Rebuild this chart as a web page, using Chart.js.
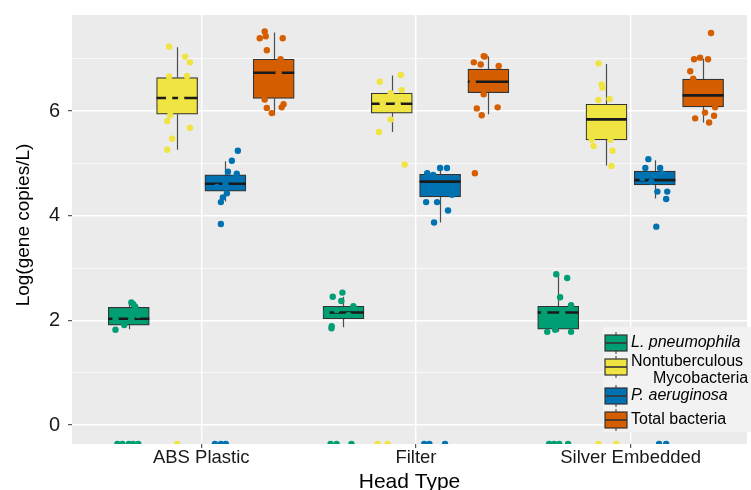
<!DOCTYPE html>
<html>
<head>
<meta charset="utf-8">
<script src="https://cdn.jsdelivr.net/npm/chart.js@4.4.0/dist/chart.umd.min.js"></script>
<style>
  html, body { margin: 0; padding: 0; background: #fff; }
  #chart { display: block; }
</style>
</head>
<body>
<canvas id="chart" width="751" height="490"></canvas>
<script>
// Head types on the x axis, species as dodged groups
const headTypes = ['ABS Plastic', 'Filter', 'Silver Embedded'];
const speciesNames = [['L. pneumophila'], ['Nontuberculous', 'Mycobacteria'], ['P. aeruginosa'], ['Total bacteria']];
const speciesItalic = [true, false, true, false];
const speciesColors = ['#009E73', '#F0E442', '#0072B2', '#D55E00'];
const dodge = [-0.3375, -0.1125, 0.1125, 0.3375];

// Box statistics, rows = species, columns = head type
const whiskerLow  = [[1.83, 1.87, 1.78], [5.26, 5.60, 4.96], [4.27, 3.87, 4.33], [5.92, 5.94, 5.78]];
const quartile1   = [[1.91, 2.03, 1.83], [5.94, 5.96, 5.45], [4.47, 4.36, 4.59], [6.24, 6.35, 6.08]];
const medians     = [[2.03, 2.15, 2.15], [6.25, 6.14, 5.84], [4.61, 4.65, 4.68], [6.73, 6.56, 6.30]];
const quartile3   = [[2.25, 2.27, 2.27], [6.64, 6.34, 6.13], [4.78, 4.79, 4.85], [6.99, 6.80, 6.61]];
const whiskerHigh = [[2.34, 2.45, 2.88], [7.22, 6.68, 6.90], [5.04, 4.91, 5.06], [7.50, 7.04, 7.00]];

// Jittered samples: [jitter offset, log value] per head type
const lpPoints = [
  [[-0.062, 1.82], [-0.021, 1.91], [0.012, 2.34], [0.021, 2.31], [0.03, 2.26], [-0.062, 2.03], [0.012, 2.02], [0.044, 2.1]],
  [[-0.005, 2.53], [-0.05, 2.45], [-0.01, 2.37], [-0.055, 1.89], [-0.056, 1.85], [0.046, 2.27], [-0.032, 2.2], [0.023, 2.1], [-0.079, 2.15]],
  [[-0.009, 2.88], [0.042, 2.81], [0.009, 2.44], [0.06, 2.29], [-0.051, 1.78], [0.06, 1.78], [-0.014, 1.82], [-0.065, 2.15], [0.019, 2.14]]
];
const ntmPoints = [
  [[-0.037, 7.23], [0.037, 7.04], [0.06, 6.93], [-0.037, 6.66], [0.046, 6.67], [-0.032, 5.92], [-0.046, 5.81], [0.06, 5.68], [-0.023, 5.47], [-0.046, 5.26], [-0.037, 6.25], [0.019, 6.24]],
  [[0.042, 6.69], [-0.056, 6.56], [0.046, 6.40], [-0.005, 6.34], [-0.005, 5.84], [-0.06, 5.60], [0.06, 4.98], [-0.042, 6.15], [0.028, 6.12], [0.046, 6.05]],
  [[-0.037, 6.91], [-0.023, 6.51], [-0.019, 6.45], [-0.037, 6.21], [0.014, 6.23], [-0.06, 5.33], [0.028, 5.24], [0.023, 4.95], [-0.069, 5.45], [0.019, 5.45]]
];
const paPoints = [
  [[0.058, 5.24], [0.03, 5.05], [0.012, 4.84], [0.053, 4.80], [0.007, 4.43], [-0.012, 4.35], [-0.021, 4.26], [-0.021, 3.84], [0, 4.6], [0.044, 4.72], [-0.04, 4.55]],
  [[0, 4.91], [0.032, 4.91], [-0.06, 4.81], [-0.032, 4.78], [-0.065, 4.26], [-0.014, 4.26], [0.037, 4.10], [-0.028, 3.87], [0.014, 4.55], [0.056, 4.4]],
  [[-0.03, 5.08], [-0.044, 4.91], [0.025, 4.91], [0.012, 4.46], [0.058, 4.46], [0.053, 4.32], [0.007, 3.79], [-0.058, 4.72], [-0.016, 4.65], [0.035, 4.80]]
];
const tbPoints = [
  [[-0.042, 7.52], [-0.037, 7.43], [-0.065, 7.39], [0.042, 7.39], [-0.032, 7.16], [0.032, 6.99], [-0.042, 6.22], [-0.032, 6.06], [-0.009, 5.96], [0.046, 6.13], [0.037, 6.07], [0.023, 6.73]],
  [[-0.022, 7.05], [-0.017, 7.04], [-0.068, 6.93], [-0.036, 6.89], [0.048, 6.86], [-0.022, 6.32], [-0.054, 6.05], [0.043, 6.07], [-0.031, 5.92], [-0.063, 4.81], [-0.008, 6.7], [-0.073, 6.55]],
  [[0.037, 7.49], [-0.042, 6.99], [-0.014, 7.02], [0.023, 6.99], [-0.06, 6.76], [-0.046, 6.62], [0.056, 6.07], [0.009, 5.97], [-0.037, 5.86], [0.051, 5.91], [0.028, 5.78]]
];
const allPoints = [lpPoints, ntmPoints, paPoints, tbPoints];

// Samples below detection sit on the lower edge: jitter offsets only
const lpBelow = [[-0.053, -0.03, 0, 0.02, 0.044], [-0.06, -0.032, 0.037], [-0.042, -0.019, 0.005, 0.046]];
const ntmBelow = [[0], [-0.065, -0.019], [-0.037, 0.046]];
const paBelow = [[-0.049, -0.021, 0.002], [-0.074, -0.05, 0.023], [0.02, 0.053]];
const tbBelow = [[], [], []];
const allBelow = [lpBelow, ntmBelow, paBelow, tbBelow];
const detectionFloor = -0.363;

const yMin = -0.363, yMax = 7.835;
const xMin = 0.398, xMax = 3.542;

const FONT = '"Liberation Sans", Arial, sans-serif';
Chart.defaults.font.family = FONT;

const boxDatasets = speciesColors.map((color, s) => ({
  type: 'bar',
  data: headTypes.map((_, i) => ({ x: i + 1 + dodge[s], y: [quartile1[s][i], quartile3[s][i]] })),
  backgroundColor: color,
  borderColor: '#333333',
  borderWidth: 1.2,
  borderSkipped: false,
  barThickness: 41,
  grouped: false,
  order: 2,
  speciesIndex: s
}));

const pointDatasets = speciesColors.map((color, s) => {
  const data = [];
  headTypes.forEach((_, i) => {
    allPoints[s][i].forEach(([off, v]) => data.push({ x: i + 1 + dodge[s] + off, y: v }));
    allBelow[s][i].forEach(off => data.push({ x: i + 1 + dodge[s] + off, y: detectionFloor }));
  });
  return {
    type: 'scatter',
    data: data,
    backgroundColor: color,
    borderWidth: 0,
    pointRadius: 3.2,
    pointBorderWidth: 0,
    clip: 0,
    order: 1
  };
});

// grey panel behind the grid
const panelPlugin = {
  id: 'panel',
  beforeDraw(chart) {
    const { ctx, chartArea: a } = chart;
    ctx.save();
    ctx.fillStyle = '#ebebeb';
    ctx.fillRect(a.left, a.top, a.right - a.left, a.bottom - a.top);
    ctx.restore();
  }
};

// whiskers under the boxes, medians on top of them
const boxPlugin = {
  id: 'boxes',
  beforeDatasetsDraw(chart) {
    const { ctx, scales: { x, y } } = chart;
    ctx.save();
    ctx.strokeStyle = '#4d4d4d';
    ctx.lineWidth = 1.2;
    speciesColors.forEach((_, s) => {
      headTypes.forEach((_, i) => {
        const px = Math.round(x.getPixelForValue(i + 1 + dodge[s])) + 0.5;
        ctx.beginPath();
        ctx.moveTo(px, y.getPixelForValue(whiskerLow[s][i]));
        ctx.lineTo(px, y.getPixelForValue(quartile1[s][i]));
        ctx.moveTo(px, y.getPixelForValue(quartile3[s][i]));
        ctx.lineTo(px, y.getPixelForValue(whiskerHigh[s][i]));
        ctx.stroke();
      });
    });
    ctx.restore();
  },
  afterDatasetDraw(chart, args) {
    if (args.meta.type !== 'bar') return;
    const s = chart.data.datasets[args.index].speciesIndex;
    const { ctx, scales: { y } } = chart;
    ctx.save();
    ctx.strokeStyle = '#1a1a1a';
    ctx.lineWidth = 2.6;
    args.meta.data.forEach((bar, i) => {
      const py = y.getPixelForValue(medians[s][i]);
      ctx.beginPath();
      ctx.moveTo(bar.x - bar.width / 2, py);
      ctx.lineTo(bar.x + bar.width / 2, py);
      ctx.stroke();
    });
    ctx.restore();
  }
};

// axis titles and the boxplot legend inside the panel
const annotatePlugin = {
  id: 'annotate',
  afterDraw(chart) {
    const ctx = chart.ctx;
    const a = chart.chartArea;
    ctx.save();
    ctx.fillStyle = '#000';
    ctx.textAlign = 'center';
    ctx.textBaseline = 'alphabetic';
    ctx.font = '21px ' + FONT;
    ctx.fillText('Head Type', (a.left + a.right) / 2, 488);
    ctx.save();
    ctx.translate(29, 225);
    ctx.rotate(-Math.PI / 2);
    ctx.font = '19px ' + FONT;
    ctx.fillText('Log(gene copies/L)', 0, 0);
    ctx.restore();

    const rows = [343, 367, 396, 420];
    ctx.fillStyle = '#f2f2f2';
    ctx.fillRect(603, 327, 150, 105);
    speciesColors.forEach((color, s) => {
      const cy = rows[s], kx = 605, kw = 22;
      ctx.strokeStyle = '#333333';
      ctx.lineWidth = 1;
      ctx.beginPath();
      ctx.moveTo(kx + kw / 2, cy - 11);
      ctx.lineTo(kx + kw / 2, cy + 11);
      ctx.stroke();
      ctx.fillStyle = color;
      ctx.fillRect(kx, cy - 8, kw, 16);
      ctx.lineWidth = 1.2;
      ctx.strokeRect(kx, cy - 8, kw, 16);
      ctx.lineWidth = 1.6;
      ctx.beginPath();
      ctx.moveTo(kx, cy);
      ctx.lineTo(kx + kw, cy);
      ctx.stroke();

      ctx.fillStyle = '#000';
      ctx.textBaseline = 'middle';
      ctx.textAlign = 'left';
      ctx.font = (speciesItalic[s] ? 'italic ' : '') + '16px ' + FONT;
      const lines = speciesNames[s];
      if (lines.length === 1) {
        ctx.fillText(lines[0], 631, cy);
      } else {
        ctx.fillText(lines[0], 631, cy - 5);
        ctx.fillText(lines[1], 653, cy + 12);
      }
    });
    ctx.restore();
  }
};

new Chart(document.getElementById('chart').getContext('2d'), {
  type: 'bar',
  data: { datasets: [...boxDatasets, ...pointDatasets] },
  options: {
    responsive: false,
    animation: false,
    layout: { padding: { top: 15, right: 0, bottom: 0, left: 0 } },
    plugins: {
      legend: { display: false },
      tooltip: { enabled: false }
    },
    scales: {
      x: {
        type: 'linear',
        min: xMin,
        max: xMax,
        offset: false,
        afterBuildTicks: scale => { scale.ticks = headTypes.map((_, i) => ({ value: i + 1 })); },
        afterFit: scale => { scale.height = 46; scale.paddingLeft = 0; scale.paddingRight = 0; },
        ticks: {
          callback: v => headTypes[v - 1],
          font: { size: 18.5 },
          color: '#1a1a1a',
          padding: -1,
          maxRotation: 0,
          autoSkip: false
        },
        grid: { offset: false, color: '#ffffff', lineWidth: 1.4, tickLength: 4, tickColor: '#333', tickWidth: 1 },
        border: { display: false }
      },
      y: {
        min: yMin,
        max: yMax,
        afterBuildTicks: scale => { scale.ticks = [0, 1, 2, 3, 4, 5, 6, 7].map(v => ({ value: v })); },
        afterFit: scale => { scale.width = 72; scale.paddingTop = 0; scale.paddingBottom = 0; },
        ticks: {
          callback: v => (v % 2 === 0 ? String(v) : ''),
          font: { size: 20 },
          color: '#1a1a1a',
          padding: 8
        },
        grid: {
          color: '#ffffff',
          lineWidth: ctx => (ctx.tick && ctx.tick.value % 2 === 0 ? 1.4 : 0.7),
          tickLength: 4,
          tickColor: ctx => (ctx.tick && ctx.tick.value % 2 === 0 ? '#333' : 'rgba(0,0,0,0)'),
          tickWidth: 1
        },
        border: { display: false }
      }
    }
  },
  plugins: [panelPlugin, boxPlugin, annotatePlugin]
});
</script>
</body>
</html>
